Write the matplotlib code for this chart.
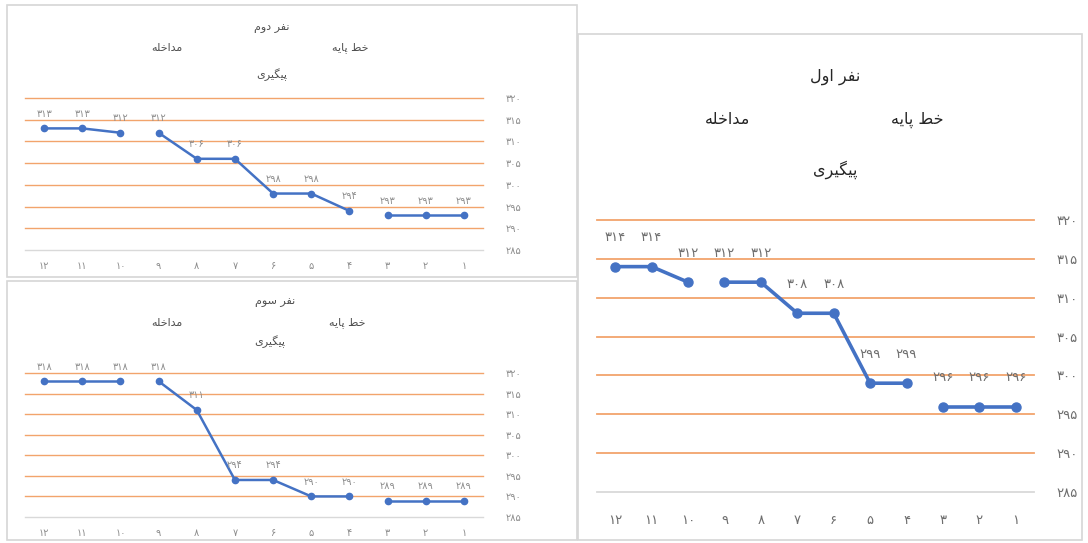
import matplotlib
matplotlib.use("Agg")
import matplotlib.pyplot as plt
from matplotlib.patches import Rectangle

# ---------------------------------------------------------------- data
sessions = [1, 2, 3, 4, 5, 6, 7, 8, 9, 10, 11, 12]
baseline_sessions = [1, 2, 3]
intervention_sessions = [4, 5, 6, 7, 8, 9]
followup_sessions = [10, 11, 12]

person1_scores = [296, 296, 296, 299, 299, 308, 308, 312, 312, 312, 314, 314]
person2_scores = [293, 293, 293, 294, 298, 298, 306, 306, 312, 312, 313, 313]
person3_scores = [289, 289, 289, 290, 290, 294, 294, 311, 318, 318, 318, 318]

y_ticks = [285, 290, 295, 300, 305, 310, 315, 320]

title_person1 = "نفر اول"
title_person2 = "نفر دوم"
title_person3 = "نفر سوم"
label_baseline = "خط پایه"
label_intervention = "مداخله"
label_followup = "پیگیری"

# ------------------------------------------------- Persian text helpers
FA_DIGITS = str.maketrans("0123456789", "۰۱۲۳۴۵۶۷۸۹")


def fa_num(v):
    return str(v).translate(FA_DIGITS)


# isolated, final, initial, medial presentation forms
FORMS = {
    "ا": ("\uFE8D", "\uFE8E", None, None),
    "د": ("\uFEA9", "\uFEAA", None, None),
    "ر": ("\uFEAD", "\uFEAE", None, None),
    "و": ("\uFEED", "\uFEEE", None, None),
    "ن": ("\uFEE5", "\uFEE6", "\uFEE7", "\uFEE8"),
    "ف": ("\uFED1", "\uFED2", "\uFED3", "\uFED4"),
    "ل": ("\uFEDD", "\uFEDE", "\uFEDF", "\uFEE0"),
    "م": ("\uFEE1", "\uFEE2", "\uFEE3", "\uFEE4"),
    "س": ("\uFEB1", "\uFEB2", "\uFEB3", "\uFEB4"),
    "خ": ("\uFEA5", "\uFEA6", "\uFEA7", "\uFEA8"),
    "ط": ("\uFEC1", "\uFEC2", "\uFEC3", "\uFEC4"),
    "ه": ("\uFEE9", "\uFEEA", "\uFEEB", "\uFEEC"),
    "پ": ("\uFB56", "\uFB57", "\uFB58", "\uFB59"),
    "گ": ("\uFB92", "\uFB93", "\uFB94", "\uFB95"),
    "ی": ("\uFBFC", "\uFBFD", "\uFBFE", "\uFBFF"),
}


def joins_forward(ch):
    f = FORMS.get(ch)
    return f is not None and f[2] is not None


def shape_fa(text):
    """Contextual shaping + visual (right-to-left) ordering."""
    out = []
    for i, ch in enumerate(text):
        if ch not in FORMS:
            out.append(ch)
            continue
        prev = text[i - 1] if i > 0 else ""
        nxt = text[i + 1] if i + 1 < len(text) else ""
        from_prev = joins_forward(prev)
        to_next = joins_forward(ch) and nxt in FORMS
        iso, fin, ini, med = FORMS[ch]
        if from_prev and to_next:
            out.append(med)
        elif from_prev:
            out.append(fin)
        elif to_next:
            out.append(ini)
        else:
            out.append(iso)
    return "".join(reversed(out))


# ---------------------------------------------------------------- style
W, H = 1088, 543
BLUE = "#4472C4"
GRID = "#F2A46C"
AXIS = "#D9D9D9"
FRAME = "#D6D6D6"


def px_box(x0, y0, x1, y1):
    return [x0 / W, 1 - y1 / H, (x1 - x0) / W, (y1 - y0) / H]


def fig_xy(x, y):
    return x / W, 1 - y / H


fig = plt.figure(figsize=(W / 100, H / 100), dpi=100)
fig.patch.set_facecolor("white")


def draw_panel(frame, plot_box, scores, titles, big):
    fx0, fy0, fx1, fy1 = frame
    fig.patches.append(Rectangle((fx0 / W, 1 - fy1 / H), (fx1 - fx0) / W,
                                 (fy1 - fy0) / H, transform=fig.transFigure,
                                 fill=False, edgecolor=FRAME, lw=1.2))

    ax = fig.add_axes(px_box(*plot_box))
    ax.set_facecolor("none")
    for s in ax.spines.values():
        s.set_visible(False)

    lw = 2.6 if big else 1.8
    ms = 6.5 if big else 4.5
    fs_tick = 9.5 if big else 7
    fs_lab = 9.5 if big else 7
    lab_off = 21 if big else 10.5
    tick_col = "#6E6E6E" if big else "#8C8C8C"

    for yv in y_ticks:
        ax.axhline(yv, color=AXIS if yv == y_ticks[0] else GRID,
                   lw=1.3 if big else 1.0, clip_on=False, zorder=1)

    value_of = dict(zip(sessions, scores))
    for phase in (baseline_sessions, intervention_sessions, followup_sessions):
        ys = [value_of[s] for s in phase]
        ax.plot(phase, ys, color=BLUE, lw=lw, marker="o", ms=ms,
                solid_capstyle="round", zorder=3, clip_on=False)
        for s, v in zip(phase, ys):
            ax.annotate(fa_num(v), (s, v), xytext=(0, lab_off),
                        textcoords="offset points", ha="center",
                        va="center", fontsize=fs_lab, color=tick_col)

    ax.set_xlim(12.5, 0.5)
    ax.set_ylim(y_ticks[0], y_ticks[-1])
    ax.set_xticks(sessions)
    ax.set_xticklabels([fa_num(s) for s in sessions], fontsize=fs_tick,
                       color=tick_col)
    ax.yaxis.tick_right()
    ax.set_yticks(y_ticks)
    ax.set_yticklabels([fa_num(v) for v in y_ticks], fontsize=fs_tick,
                       color=tick_col)
    ax.tick_params(length=0, axis="y", pad=16)
    ax.tick_params(length=0, axis="x", pad=16 if big else 8)

    fs_title = 11.5 if big else 8
    for (txt, (x, y)) in titles:
        fx, fy = fig_xy(x, y)
        fig.text(fx, fy, shape_fa(txt), ha="center", va="center",
                 fontsize=fs_title, color="#262626" if big else "#505050",
                 family="DejaVu Sans")
    return ax


# top-left panel: person 2
draw_panel((7, 5, 577, 277), (25, 98, 483, 250), person2_scores,
           [(title_person2, (272, 28)), (label_intervention, (167, 48)),
            (label_baseline, (350, 48)), (label_followup, (272, 75))],
           big=False)

# bottom-left panel: person 3
draw_panel((7, 281, 577, 540), (25, 373, 483, 517), person3_scores,
           [(title_person3, (275, 302)), (label_intervention, (167, 323)),
            (label_baseline, (347, 323)), (label_followup, (270, 342))],
           big=False)

# right panel: person 1
draw_panel((578, 34, 1082, 540), (597, 220, 1034, 492), person1_scores,
           [(title_person1, (835, 77)), (label_intervention, (728, 120)),
            (label_baseline, (917, 120)), (label_followup, (835, 170))],
           big=True)

fig.savefig("out.png", dpi=100, facecolor="white")
